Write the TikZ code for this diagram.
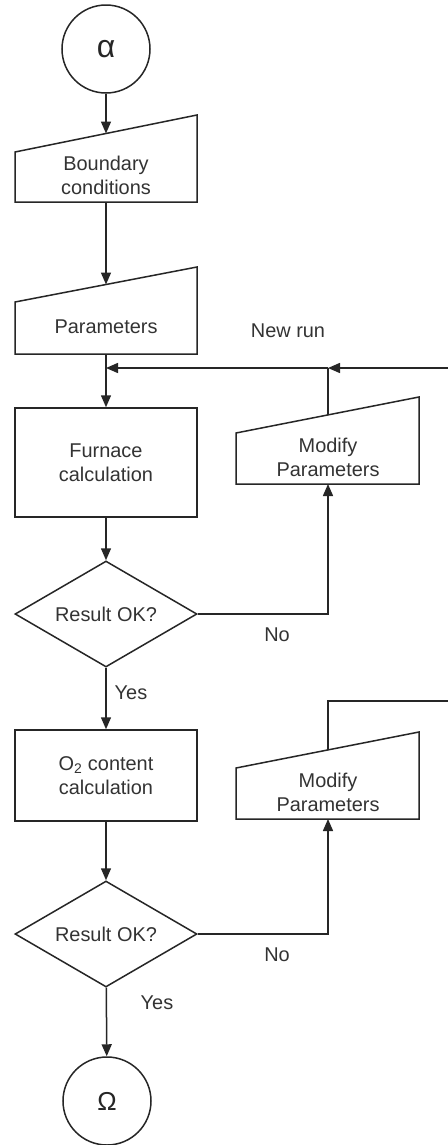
\documentclass[tikz,border=0pt]{standalone}
\usepackage{fontspec}
\setmainfont{Liberation Sans}
\usetikzlibrary{arrows.meta,shapes.geometric}
\begin{document}
\begin{tikzpicture}[x=1bp,y=-1bp,
  line/.style={draw=black!85, line width=1.5bp},
  arr/.style={line, -{Triangle[width=10bp,length=12bp]}},
  txt/.style={text=black!80, font=\fontsize{20}{24}\selectfont, align=center, inner sep=0pt},
  term/.style={circle, line, minimum size=88bp, inner sep=0pt, text=black!85, font=\fontsize{26}{30}\selectfont},
  procbox/.style={rectangle, line, minimum width=182bp, txt},
  decide/.style={diamond, line, aspect=1.717, minimum width=182bp, minimum height=106bp, txt}
]
\useasboundingbox[fill=white] (0,0) rectangle (448,1145);

% start terminal
\node[term, font=\fontsize{32}{36}\selectfont] (alpha) at (106,49) {α};

% Boundary conditions (manual input)
\draw[line] (15,152) -- (197,115) -- (197,202) -- (15,202) -- cycle;
\node[txt] (bc) at (106,175) {Boundary\\conditions};
\coordinate (bcTop) at (106,133.5);
\coordinate (bcBot) at (106,202);

% Parameters (manual input)
\draw[line] (15,302) -- (197,267) -- (197,354) -- (15,354) -- cycle;
\node[txt] (par) at (106,327) {Parameters};
\coordinate (parTop) at (106,284.5);
\coordinate (parBot) at (106,354);

\node[txt] (newrun) at (288,331) {New run};

% Furnace calculation
\node[procbox, minimum height=109bp] (furn) at (106,462.5) {Furnace\\calculation};

% Modify parameters 1
\draw[line] (236,433) -- (419,397) -- (419,484) -- (236,484) -- cycle;
\node[txt] (mod1) at (328,457) {Modify\\Parameters};
\coordinate (mod1Top) at (328,415);
\coordinate (mod1Bot) at (328,484);

% Decision 1
\node[decide] (d1) at (106,614) {Result OK?};
\node[txt] (no1) at (277,635) {No};
\node[txt] (yes1) at (131,693) {Yes};

% O2 content calculation
\node[procbox, minimum height=91bp] (o2) at (106,775.5) {O\textsubscript{2} content\\calculation};

% Modify parameters 2
\draw[line] (236,768) -- (419,732) -- (419,819) -- (236,819) -- cycle;
\node[txt] (mod2) at (328,792) {Modify\\Parameters};
\coordinate (mod2Top) at (328,750);
\coordinate (mod2Bot) at (328,819);

% Decision 2
\node[decide] (d2) at (106,934) {Result OK?};
\node[txt] (no2) at (277,955) {No};
\node[txt] (yes2) at (157,1003) {Yes};

% end terminal
\node[term] (omega) at (107,1101) {Ω};

% loop coordinates
\coordinate (j0) at (106,368);
\coordinate (j1) at (328,368);
\coordinate (edge1) at (448,368);
\coordinate (edge2) at (448,701);

% connectors
\draw[arr] (alpha) -- (bcTop);
\draw[arr] (bcBot) -- (parTop);
\draw[arr] (parBot) -- (furn);
\draw[arr] (edge1) -- (j1);
\draw[arr] (j1) -- (j0);
\draw[line] (mod1Top) -- (j1);
\draw[arr] (furn) -- (d1);
\draw[arr] (d1.east) -| (mod1Bot);
\draw[arr] (d1) -- (o2);
\draw[line] (mod2Top) |- (edge2);
\draw[arr] (o2) -- (d2);
\draw[arr] (d2.east) -| (mod2Bot);
\draw[arr] (d2) -- (omega);
\end{tikzpicture}
\end{document}
